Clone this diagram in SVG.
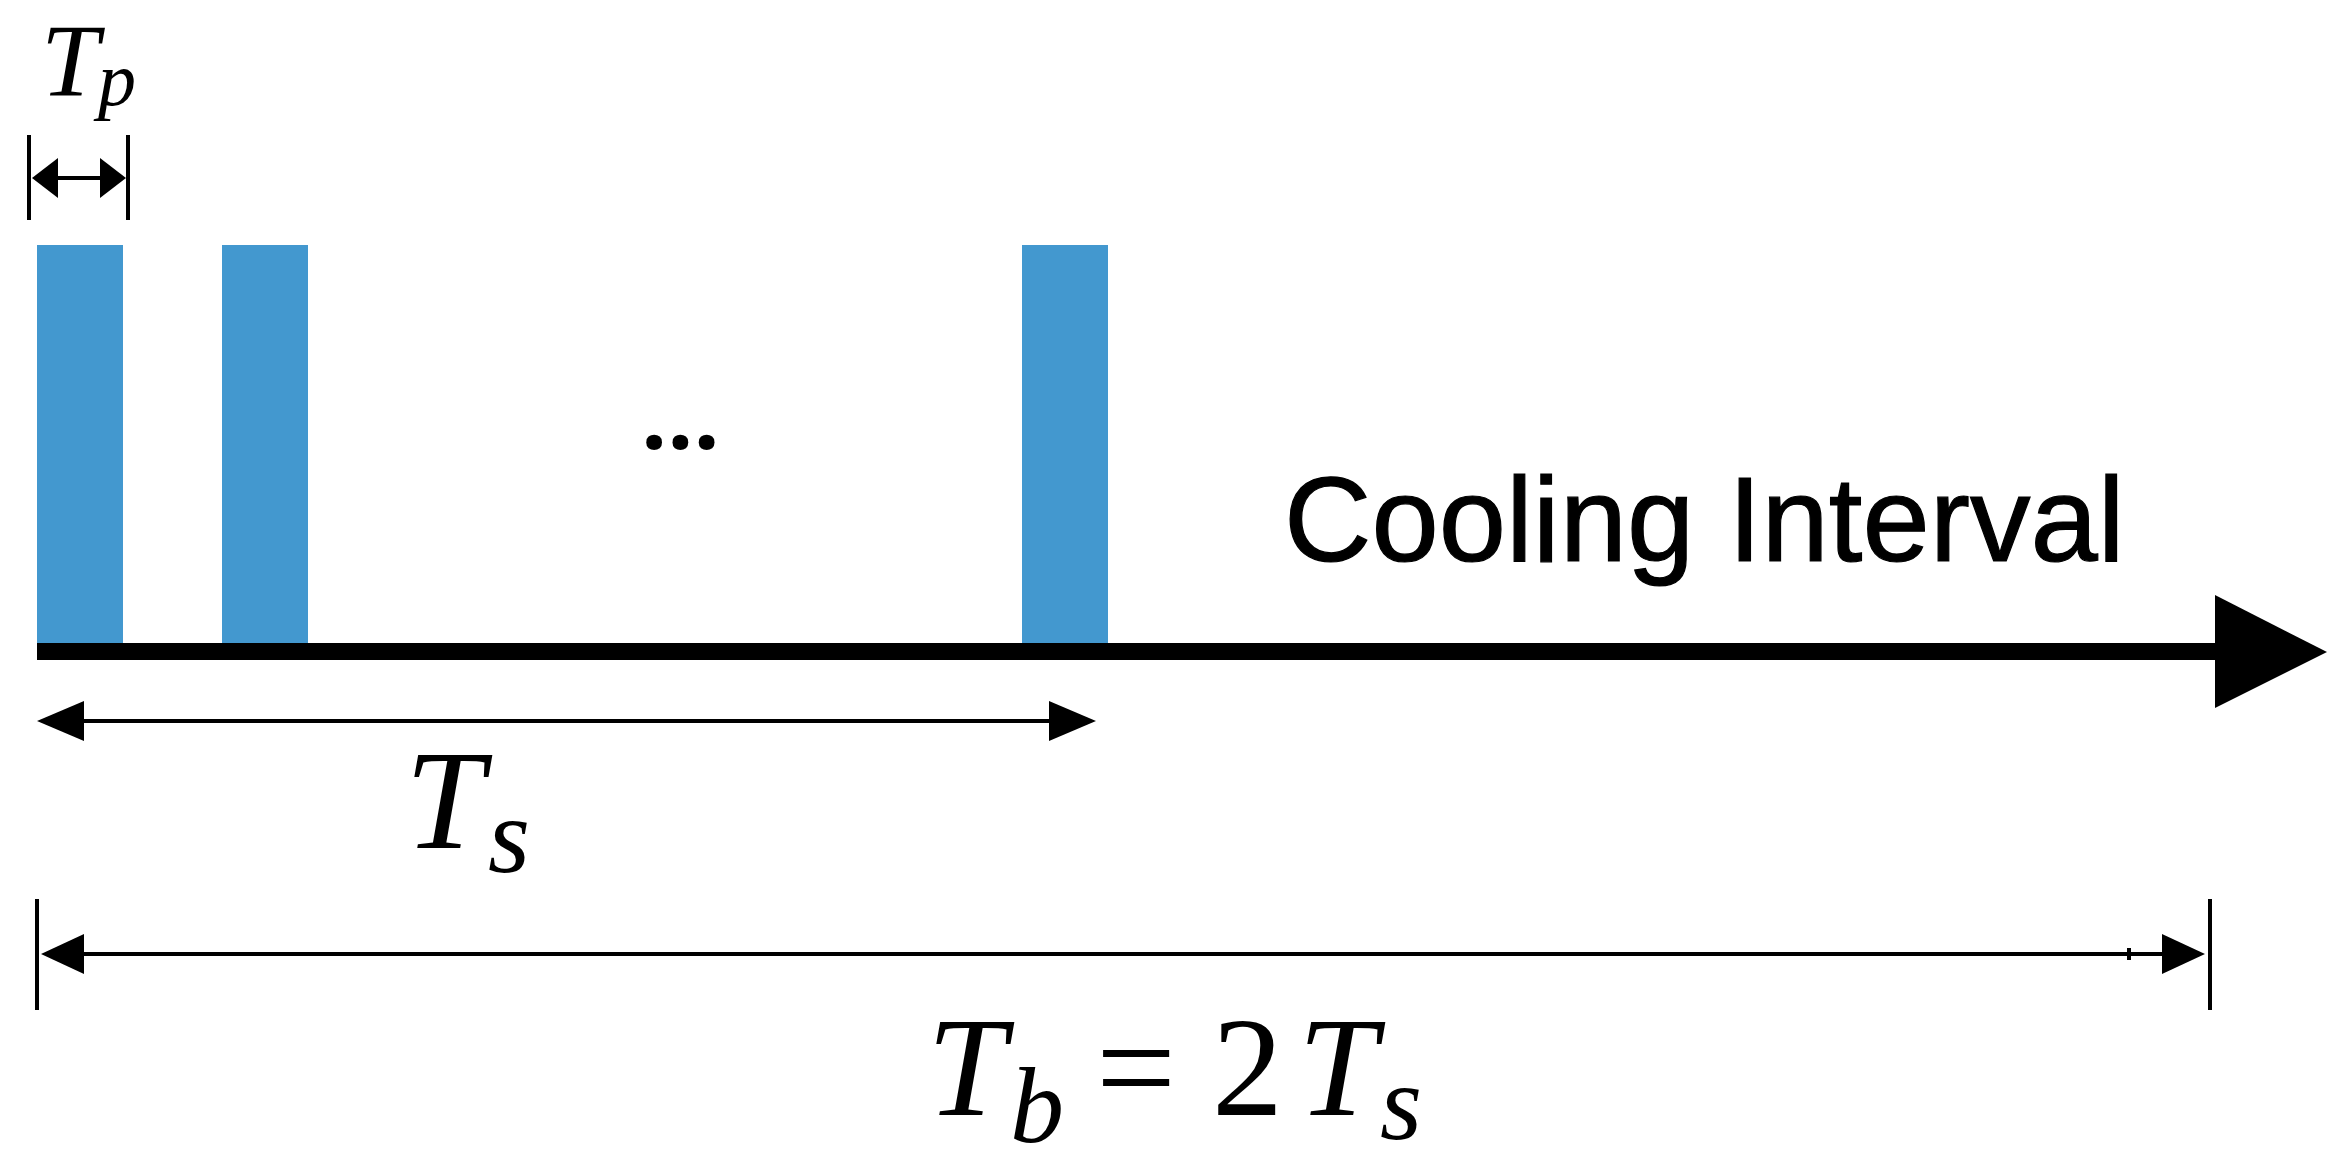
<svg xmlns="http://www.w3.org/2000/svg" width="2347" height="1164" viewBox="0 0 2347 1164">
<style>
.bar{fill:#4398cf}
.dim{stroke:#000;stroke-width:4;fill:none}
.tick{stroke:#000;stroke-width:4}
.math{font-family:"Liberation Serif","Times New Roman",serif;font-style:italic;fill:#000}
.up{font-style:normal}
.lbl{font-family:"Liberation Sans",Arial,sans-serif;fill:#000}
.dots{font-family:"Open Sans","Noto Sans",sans-serif;font-weight:bold;fill:#000}
</style>
<defs>
<marker id="head" markerUnits="userSpaceOnUse" markerWidth="47" markerHeight="40" refX="0" refY="20" orient="auto-start-reverse" viewBox="0 0 47 40">
<path d="M0,0 L47,20 L0,40 Z" fill="#000"/>
</marker>
<marker id="headB" markerUnits="userSpaceOnUse" markerWidth="43" markerHeight="40" refX="0" refY="20" orient="auto-start-reverse" viewBox="0 0 43 40">
<path d="M0,0 L43,20 L0,40 Z" fill="#000"/>
</marker>
<marker id="headS" markerUnits="userSpaceOnUse" markerWidth="26" markerHeight="40" refX="0" refY="20" orient="auto-start-reverse" viewBox="0 0 26 40">
<path d="M0,0 L26,20 L0,40 Z" fill="#000"/>
</marker>
</defs>
<rect width="2347" height="1164" fill="#fff"/>
<g id="pulse1"><rect class="bar" x="37" y="245" width="86" height="398"/></g>
<g id="pulse2"><rect class="bar" x="222" y="245" width="86" height="398"/></g>
<g id="pulse3"><rect class="bar" x="1022" y="245" width="86" height="398"/></g>
<g id="ellipsis"><text class="dots" x="641" y="449" font-size="92">...</text></g>
<g id="time-axis">
<rect x="37" y="643" width="2180" height="17" fill="#000"/>
<polygon points="2215,595 2327,652 2215,708" fill="#000"/>
</g>
<g id="cooling-label"><text class="lbl" x="1284" y="561" font-size="121" stroke="#000" stroke-width="1.2">Cooling Interval</text></g>
<g id="connectors">
<g id="tp-dim">
<line class="tick" x1="29" y1="135" x2="29" y2="220" stroke-width="3"/>
<line class="tick" x1="128" y1="135" x2="128" y2="220" stroke-width="3"/>
<line class="dim" x1="58" y1="178" x2="100" y2="178" stroke-width="3" marker-start="url(#headS)" marker-end="url(#headS)"/>
</g>
<g id="ts-dim">
<line class="dim" x1="84" y1="721" x2="1049" y2="721" marker-start="url(#head)" marker-end="url(#head)"/>
</g>
<g id="tb-dim">
<line class="tick" x1="37" y1="899" x2="37" y2="1010"/>
<line class="tick" x1="2210" y1="899" x2="2210" y2="1010"/>
<line class="dim" x1="84" y1="954" x2="2162" y2="954" marker-start="url(#headB)" marker-end="url(#headB)"/>
<line class="tick" x1="2129" y1="948" x2="2129" y2="960"/>
</g>
</g>
<g id="tp-label"><text class="math" x="41" y="96" font-size="104">T<tspan x="98" y="105" font-size="76">p</tspan></text></g>
<g id="ts-label"><text class="math" x="405" y="848" font-size="142">T<tspan x="488" y="872" font-size="108">s</tspan></text></g>
<g id="tb-label"><text class="math" x="927" y="1115" font-size="142">T<tspan x="1010" y="1142" font-size="108">b</tspan><tspan class="up" x="1096" y="1115">=</tspan><tspan class="up" x="1212">2</tspan><tspan x="1298">T</tspan><tspan x="1380" y="1139" font-size="108">s</tspan></text></g>
</svg>
